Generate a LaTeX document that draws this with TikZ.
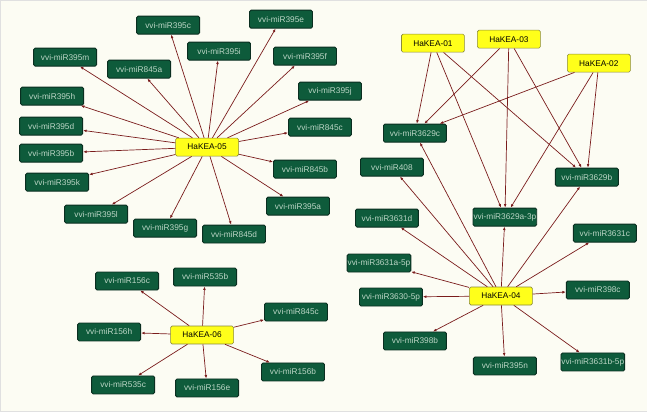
\documentclass[tikz,border=0pt]{standalone}
\usepackage{fontspec}
\setmainfont{Liberation Sans}
\usetikzlibrary{arrows.meta}

\definecolor{bgcol}{HTML}{FCFCF3}
\definecolor{mirgreen}{HTML}{0E5B3B}
\definecolor{mirline}{HTML}{0A2E20}
\definecolor{mirtext}{HTML}{BCD6C6}
\definecolor{keayellow}{HTML}{FFFF1A}
\definecolor{kealine}{HTML}{8A8A3A}
\definecolor{linkred}{HTML}{7A1C1C}

\begin{document}
\begin{tikzpicture}[x=1pt,y=-1pt,
  mir/.style={draw=mirline, fill=mirgreen, text=mirtext, rounded corners=1.5pt,
    line width=0.9pt, minimum width=63pt, minimum height=18pt, inner sep=0.5pt,
    font=\fontsize{8.3}{9}\selectfont},
  kea/.style={mir, draw=kealine, fill=keayellow, text=black, line width=0.6pt},
  link/.style={draw=linkred, line width=0.7pt, -{Latex[length=3.5pt,width=2.8pt]}}]

% Background
\fill[bgcol, draw=black!12] (0,0) rectangle (647,411);

% HaKEA-05 cluster
\node[kea] (k05) at (207,147) {HaKEA-05};
\node[mir] (m395c) at (168,25)  {vvi-miR395c};
\node[mir] (m395e) at (281,19)  {vvi-miR395e};
\node[mir] (m395m) at (65,57)   {vvi-miR395m};
\node[mir] (m395i) at (219,51)  {vvi-miR395i};
\node[mir] (m395f) at (305,56)  {vvi-miR395f};
\node[mir] (m845a) at (139,69)  {vvi-miR845a};
\node[mir] (m395h) at (52,96)   {vvi-miR395h};
\node[mir] (m395j) at (330,91)  {vvi-miR395j};
\node[mir] (m395d) at (51,126)  {vvi-miR395d};
\node[mir] (m845c) at (320,127) {vvi-miR845c};
\node[mir] (m395b) at (51,153)  {vvi-miR395b};
\node[mir] (m845b) at (305,169) {vvi-miR845b};
\node[mir] (m395k) at (57,182)  {vvi-miR395k};
\node[mir] (m395a) at (298,206) {vvi-miR395a};
\node[mir] (m395l) at (96,214)  {vvi-miR395l};
\node[mir] (m395g) at (165,228) {vvi-miR395g};
\node[mir] (m845d) at (234,234) {vvi-miR845d};

\foreach \t in {m395c,m395e,m395m,m395i,m395f,m845a,m395h,m395j,m395d,
                m845c,m395b,m845b,m395k,m395a,m395l,m395g,m845d}
  \draw[link] (k05) -- (\t);

% HaKEA-06 cluster
\node[kea] (k06) at (202,335) {HaKEA-06};
\node[mir] (m156c)  at (127,281) {vvi-miR156c};
\node[mir] (m535b)  at (205,277) {vvi-miR535b};
\node[mir] (m845cb) at (296,312) {vvi-miR845c};
\node[mir] (m156h)  at (109,332) {vvi-miR156h};
\node[mir] (m156b)  at (293,372) {vvi-miR156b};
\node[mir] (m535c)  at (123,385) {vvi-miR535c};
\node[mir] (m156e)  at (207,388) {vvi-miR156e};

\foreach \t in {m156c,m535b,m845cb,m156h,m156b,m535c,m156e}
  \draw[link] (k06) -- (\t);

% HaKEA-01, -02, -03 and their shared targets
\node[kea] (k01) at (433,43) {HaKEA-01};
\node[kea] (k03) at (509,39) {HaKEA-03};
\node[kea] (k02) at (599,63) {HaKEA-02};
\node[mir] (m3629c) at (415,133) {vvi-miR3629c};
\node[mir] (m3629a) at (505,217) {vvi-miR3629a-3p};
\node[mir] (m3629b) at (587,177) {vvi-miR3629b};

\foreach \s in {k01,k03,k02}
  \foreach \t in {m3629c,m3629a,m3629b}
    \draw[link] (\s) -- (\t);

% HaKEA-04 cluster
\node[kea] (k04) at (501,296) {HaKEA-04};
\node[mir] (m408)   at (392,167) {vvi-miR408};
\node[mir] (m3631d) at (387,218) {vvi-miR3631d};
\node[mir] (m3631c) at (605,233) {vvi-miR3631c};
\node[mir] (m3631a) at (379,263) {vvi-miR3631a-5p};
\node[mir] (m3630)  at (391,297) {vvi-miR3630-5p};
\node[mir] (m398c)  at (598,290) {vvi-miR398c};
\node[mir] (m398b)  at (415,341) {vvi-miR398b};
\node[mir] (m395n)  at (505,366) {vvi-miR395n};
\node[mir] (m3631b) at (593,362) {vvi-miR3631b-5p};

\foreach \t in {m3629c,m408,m3631d,m3629a,m3629b,m3631c,m3631a,m3630,
                m398c,m398b,m395n,m3631b}
  \draw[link] (k04) -- (\t);

\end{tikzpicture}
\end{document}
